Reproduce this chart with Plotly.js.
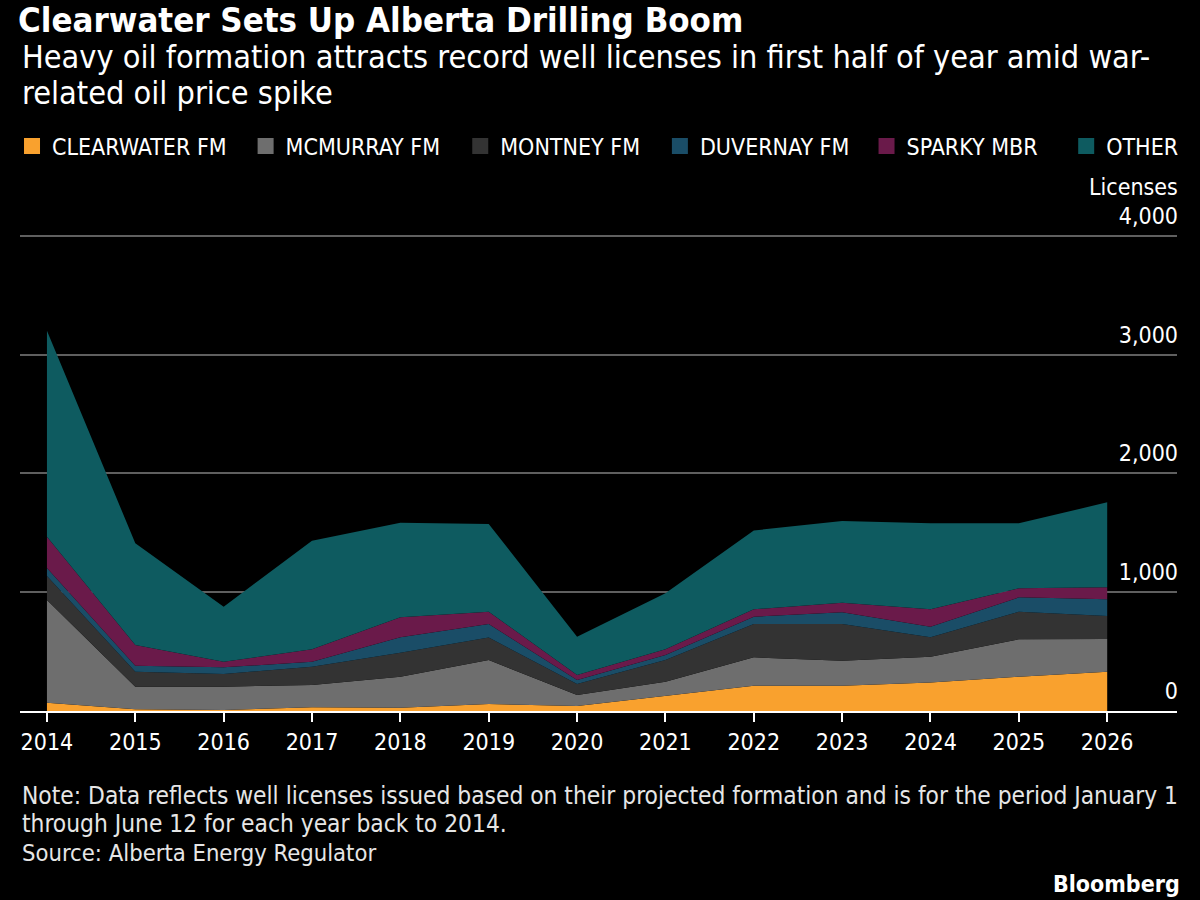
<!DOCTYPE html>
<html>
<head>
<meta charset="utf-8">
<script src="https://cdn.plot.ly/plotly-3.0.1.min.js"></script>
<style>
  html, body { margin: 0; padding: 0; background: #000; }
  #chart { width: 1200px; height: 900px; }
</style>
</head>
<body>
<div id="chart"></div>
<script>
// Alberta well licenses issued Jan 1 – Jun 12, by projected formation
const years = [2014, 2015, 2016, 2017, 2018, 2019, 2020, 2021, 2022, 2023, 2024, 2025, 2026];

const clearwater = [70, 14, 8, 31, 28, 59, 42, 126, 213, 213, 241, 289, 331];
const mcmurray   = [865, 191, 197, 188, 261, 370, 93, 121, 239, 211, 216, 315, 275];
const montney    = [202, 126, 107, 154, 202, 189, 92, 182, 281, 309, 163, 232, 194];
const duvernay   = [67, 51, 56, 42, 129, 115, 34, 43, 61, 98, 90, 121, 141];
const sparky     = [264, 174, 47, 104, 169, 103, 42, 47, 62, 81, 146, 76, 101];
const other      = [1735, 856, 463, 915, 797, 739, 323, 472, 664, 688, 724, 547, 715];

const seriesNames = ["CLEARWATER FM", "MCMURRAY FM", "MONTNEY FM", "DUVERNAY FM", "SPARKY MBR", "OTHER"];
const yTicks = [0, 1000, 2000, 3000, 4000];

const colors = ["#f9a12e", "#6e6e6e", "#333333", "#1a4d67", "#6a1a4a", "#0e5b60"];
const seriesValues = [clearwater, mcmurray, montney, duvernay, sparky, other];

const FONT = "'Liberation Sans Narrow', 'DejaVu Sans Condensed', 'Roboto Condensed', 'Liberation Sans', sans-serif";

// plot area spans x 18..1177 px and y 200..711 px
const pX = px => (px - 18) / 1159;
const pY = px => (711 - px) / 511;

// left edge of each legend entry (px)
const legendLeft = [10, 244, 459, 659, 866, 1066];
const legendKeys = ["legend", "legend2", "legend3", "legend4", "legend5", "legend6"];

const traces = [];
seriesValues.forEach((vals, i) => {
  traces.push({
    type: "scatter",
    mode: "lines",
    x: years,
    y: vals,
    stackgroup: "one",
    line: { width: 0, color: colors[i] },
    fillcolor: colors[i],
    name: seriesNames[i],
    showlegend: false,
    hoverinfo: "skip"
  });
});
// square swatches, one legend box per series
seriesNames.forEach((n, i) => {
  traces.push({
    type: "scatter",
    mode: "markers",
    x: [null],
    y: [null],
    name: n,
    legend: legendKeys[i],
    marker: { symbol: "square", size: 18, color: colors[i] },
    showlegend: true
  });
});

const layout = {
  width: 1200,
  height: 900,
  paper_bgcolor: "#000000",
  plot_bgcolor: "#000000",
  margin: { l: 18, r: 23, t: 200, b: 189 },
  font: { family: FONT, color: "#ffffff", size: 23 },
  title: {
    text: "<b>Clearwater Sets Up Alberta Drilling Boom</b>",
    font: { family: FONT, size: 34.5, color: "#ffffff" },
    xref: "container", yref: "container",
    x: 18 / 1200, xanchor: "left",
    y: 1 - 20 / 900, yanchor: "middle"
  },
  showlegend: true,
  xaxis: {
    range: [2013.695, 2026.79],
    tickvals: years,
    ticktext: years.map(String),
    ticks: "outside",
    ticklen: 9,
    tickwidth: 2,
    tickcolor: "#ffffff",
    showline: true,
    linecolor: "#ffffff",
    linewidth: 2,
    showgrid: false,
    zeroline: false,
    tickfont: { family: FONT, size: 23, color: "#ffffff" },
    fixedrange: true
  },
  yaxis: {
    range: [0, 4303],
    side: "right",
    tickvals: yTicks,
    ticktext: yTicks.map(v => v.toLocaleString("en-US")),
    ticklabelposition: "inside top",
    ticklabelstandoff: -4,
    ticklabelshift: -4,
    ticks: "",
    showgrid: true,
    gridcolor: "#5f5f5f",
    gridwidth: 2,
    zeroline: false,
    showline: false,
    tickfont: { family: FONT, size: 23, color: "#ffffff" },
    fixedrange: true
  },
  annotations: [
    {
      text: "Heavy oil formation attracts record well licenses in first half of year amid war-",
      xref: "paper", yref: "paper",
      x: 0, xanchor: "left", align: "left",
      y: pY(57), yanchor: "middle",
      showarrow: false,
      font: { family: FONT, size: 32.2, color: "#ffffff" }
    },
    {
      text: "related oil price spike",
      xref: "paper", yref: "paper",
      x: 0, xanchor: "left", align: "left",
      y: pY(93), yanchor: "middle",
      showarrow: false,
      font: { family: FONT, size: 32.2, color: "#ffffff" }
    },
    {
      text: "Licenses",
      xref: "paper", yref: "paper",
      x: 1, xanchor: "right", xshift: 3,
      y: pY(187), yanchor: "middle",
      showarrow: false,
      font: { family: FONT, size: 23, color: "#ffffff" }
    },
    {
      text: "Note: Data reflects well licenses issued based on their projected formation and is for the period January 1",
      xref: "paper", yref: "paper",
      x: 0, xanchor: "left", align: "left",
      y: pY(795), yanchor: "middle",
      showarrow: false,
      font: { family: FONT, size: 24.3, color: "#e6e6e6" }
    },
    {
      text: "through June 12 for each year back to 2014.",
      xref: "paper", yref: "paper",
      x: 0, xanchor: "left", align: "left",
      y: pY(823), yanchor: "middle",
      showarrow: false,
      font: { family: FONT, size: 24.3, color: "#e6e6e6" }
    },
    {
      text: "Source: Alberta Energy Regulator",
      xref: "paper", yref: "paper",
      x: 0, xanchor: "left", align: "left",
      y: pY(853), yanchor: "middle",
      showarrow: false,
      font: { family: FONT, size: 23.6, color: "#e6e6e6" }
    },
    {
      text: "<b>Bloomberg</b>",
      xref: "paper", yref: "paper",
      x: 1, xanchor: "right", xshift: 5,
      y: pY(884), yanchor: "middle",
      showarrow: false,
      font: { family: FONT, size: 23, color: "#ffffff" }
    }
  ]
};

legendKeys.forEach((key, i) => {
  layout[key] = {
    orientation: "h",
    x: pX(legendLeft[i]), xanchor: "left",
    y: pY(146), yanchor: "middle",
    font: { family: FONT, size: 23, color: "#ffffff" },
    bgcolor: "rgba(0,0,0,0)",
    itemwidth: 30
  };
});

Plotly.newPlot("chart", traces, layout, { displayModeBar: false, staticPlot: true });
</script>
</body>
</html>
